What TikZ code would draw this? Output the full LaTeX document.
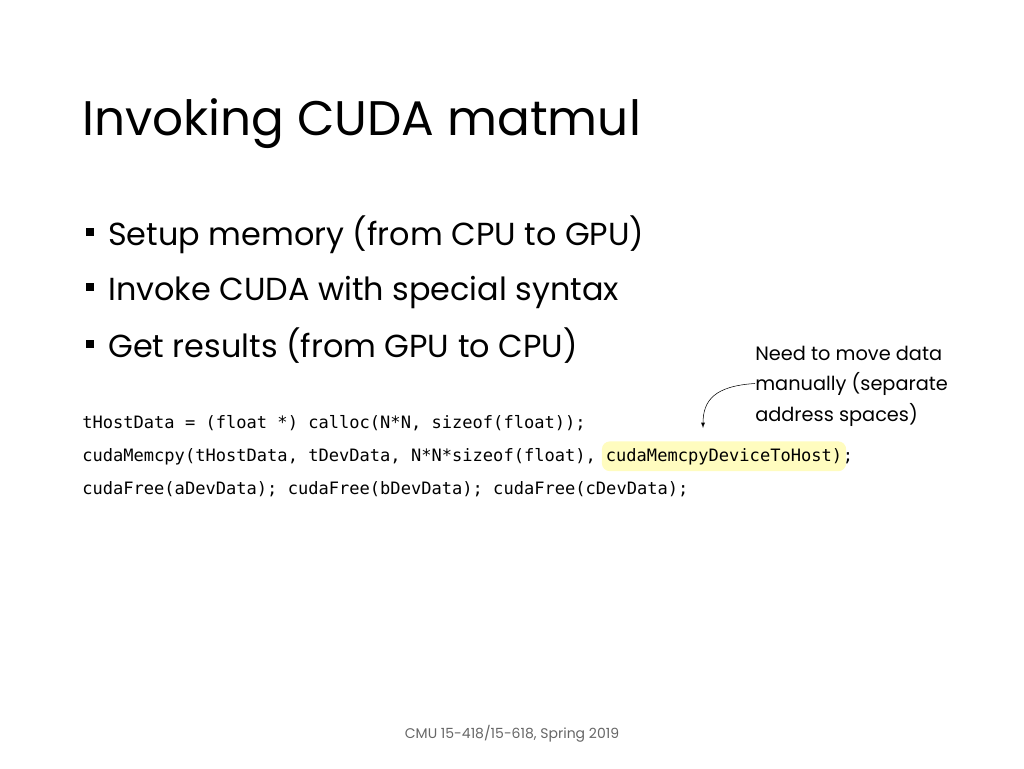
\documentclass[tikz,border=0pt]{standalone}
\usepackage{fontspec}
\setmainfont{Poppins}
\setmonofont{DejaVu Sans Mono}
\begin{document}
\begin{tikzpicture}[x=0.75pt,y=-0.75pt]
\useasboundingbox (0,0) rectangle (1024,768);
\tikzset{bul/.style={anchor=base west,font=\fontsize{23.9}{30}\selectfont},
code/.style={anchor=base west,font=\ttfamily\fontsize{12.8}{14}\selectfont},
note/.style={anchor=base west,font=\fontsize{14.5}{17}\selectfont},
sq/.style={fill=black,minimum size=6.5pt,inner sep=0pt}}
\node[anchor=base west,inner sep=0,font=\fontsize{36.4}{44}\selectfont] (title) at (82,135) {Invoking CUDA matmul};
\foreach \t/\y/\n in {Setup memory (from CPU to GPU)/245/a,Invoke CUDA with special syntax/300/b,Get results (from GPU to CPU)/357/c}{
  \node[sq] (s\n) at (90,\y-13) {};
  \node[bul,inner sep=0] (b\n) at (108,\y) {\t};
}
\node[code,inner sep=0] (c1) at (82,428) {tHostData = (float *) calloc(N*N, sizeof(float));};
\node[code,inner sep=0] (c2) at (82,461) {cudaMemcpy(tHostData, tDevData, N*N*sizeof(float),};
\node[code,anchor=base west,inner xsep=3pt,inner ysep=5pt,fill=yellow!25,rounded corners=6pt] (c2b) at ([xshift=4pt]c2.base east) {cudaMemcpyDeviceToHost)};
\node[code,inner sep=0,anchor=base west] (c2c) at ([xshift=-3pt]c2b.base east) {;};
\node[code,inner sep=0] (c3) at (82,494) {cudaFree(aDevData); cudaFree(bDevData); cudaFree(cDevData);};
\node[note,inner sep=0] (n1) at (755,360) {Need to move data};
\node[note,inner sep=0] (n2) at (755,390) {manually (separate};
\node[note,inner sep=0] (n3) at (755,421) {address spaces)};
\coordinate (ae) at (703,428);
\draw[-latex,thin] (n2.west) .. controls (715,386) and (703,400) .. (ae);
\node[anchor=base,inner sep=0,text=black!60,font=\fontsize{10.5}{12}\selectfont] (f) at (512,738) {CMU 15-418/15-618, Spring 2019};
\end{tikzpicture}
\end{document}
